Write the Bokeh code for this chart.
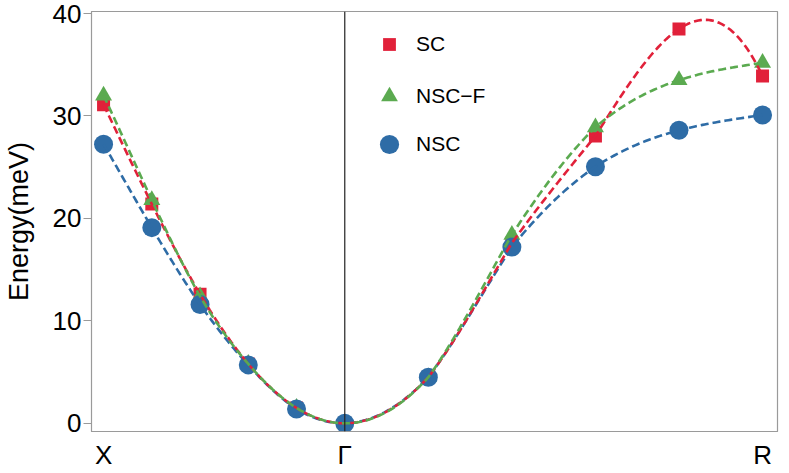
import numpy as np
from bokeh.plotting import figure
from bokeh.models import Legend, LegendItem, Span, FixedTicker, Range1d
from bokeh.embed import file_html
from bokeh.resources import INLINE

# k-path coordinates (units of 2pi/a): X -> Gamma -> R
k = [0.0, 0.1, 0.2, 0.3, 0.4, 0.5, 0.6732, 0.8464, 1.0196, 1.1928, 1.3660]
k_ticks = [0.0, 0.5, 1.3660]
k_labels = ["X", "\u0393", "R"]
e_ticks = [0, 10, 20, 30, 40]

sc = [31.1, 21.4, 12.6, 5.8, 1.5, 0.0, 4.5, 17.6, 28.05, 38.5, 33.9]
nsc_f = [32.0, 21.8, 12.4, 5.8, 1.5, 0.0, 4.5, 18.4, 28.9, 33.5, 35.2]
nsc = [27.25, 19.1, 11.6, 5.7, 1.4, 0.0, 4.5, 17.2, 25.05, 28.6, 30.1]

RED = "#e1213a"
GREEN = "#5baa50"
BLUE = "#2e6ca6"
GRAY = "#9a9a9a"
FONT = "Liberation Sans"


def local_cubic(xs, ys, per_seg=40):
    """Piecewise cubic interpolation through 4 neighbouring points."""
    xs = np.asarray(xs, float)
    ys = np.asarray(ys, float)
    n = len(xs)
    ox, oy = [], []
    for i in range(n - 1):
        j0 = min(max(i - 1, 0), n - 4)
        px = xs[j0:j0 + 4]
        py = ys[j0:j0 + 4]
        t = np.linspace(xs[i], xs[i + 1], per_seg, endpoint=(i == n - 2))
        val = np.zeros_like(t)
        for a in range(4):
            term = np.full_like(t, py[a])
            for b in range(4):
                if b != a:
                    term *= (t - px[b]) / (px[a] - px[b])
            val += term
        ox.extend(t)
        oy.extend(val)
    return ox, oy


FW, FH = 686, 420
BT, BB, BL, BR = 11, 36, 88, 2

p = figure(frame_width=FW, frame_height=FH, x_range=Range1d(-0.025, 1.397),
           y_range=Range1d(-0.8, 40.2), output_backend="svg",
           toolbar_location=None, min_border_left=BL, min_border_right=BR,
           min_border_top=BT, min_border_bottom=BB)
p.background_fill_color = "white"
p.border_fill_color = "white"
p.outline_line_color = GRAY
p.outline_line_width = 1.2
p.grid.visible = False

p.add_layout(Span(location=k_ticks[1], dimension="height",
                  line_color="#222222", line_width=1.2))

r_sc = p.scatter(k, sc, marker="square", size=13, color=RED, line_color=None)
r_nf = p.scatter(k, nsc_f, marker="triangle", size=17, color=GREEN, line_color=None)
r_ns = p.scatter(k, nsc, marker="circle", size=19, color=BLUE, line_color=None)

for ys, col in ((nsc, BLUE), (sc, RED), (nsc_f, GREEN)):
    cx, cy = local_cubic(k, ys)
    p.line(cx, cy, line_color=col, line_width=2.6, line_dash="8 4")

# axes
p.xaxis.ticker = FixedTicker(ticks=k_ticks)
p.xaxis.major_label_overrides = {t: l for t, l in zip(k_ticks, k_labels)}
p.xaxis.major_tick_line_color = None
p.xaxis.minor_tick_line_color = None
p.xaxis.axis_line_color = GRAY
p.xaxis.major_label_text_font = FONT
p.xaxis.major_label_text_font_size = "26px"
p.xaxis.major_label_text_color = "black"
p.xaxis.major_label_standoff = 2

p.yaxis.ticker = FixedTicker(ticks=e_ticks)
p.yaxis.axis_line_color = GRAY
p.yaxis.major_tick_line_color = GRAY
p.yaxis.major_tick_out = 8
p.yaxis.major_tick_in = 0
p.yaxis.minor_tick_line_color = None
p.yaxis.major_label_text_font = FONT
p.yaxis.major_label_text_font_size = "26px"
p.yaxis.major_label_text_color = "black"
p.yaxis.major_label_standoff = 2
p.yaxis.axis_label = "Energy(meV)"
p.yaxis.axis_label_text_font = FONT
p.yaxis.axis_label_text_font_size = "27px"
p.yaxis.axis_label_text_font_style = "normal"
p.yaxis.axis_label_text_color = "black"
p.yaxis.axis_label_standoff = 16

# legend: one per entry so that marker sizes differ like the reference
# (positions in px relative to the frame: marker centre x, centre y from frame top)
legend_rows = [(r_sc, "SC", 13, 33), (r_nf, "NSC\u2212F", 17, 85), (r_ns, "NSC", 19, 133)]
for rend, name, msize, yc in legend_rows:
    w = int(round(msize / 0.4))
    leg = Legend(items=[LegendItem(label=name, renderers=[rend])],
                 location=(int(round(298 - w / 2)), int(round(FH - yc - w / 2))),
                 glyph_width=w, glyph_height=w,
                 label_standoff=int(round(27 - w / 2)),
                 padding=0, margin=0, border_line_color=None,
                 background_fill_alpha=0, label_text_font=FONT,
                 label_text_font_size="21px", label_text_color="black")
    p.add_layout(leg, "center")

open("out.html", "w").write(file_html(p, INLINE))
